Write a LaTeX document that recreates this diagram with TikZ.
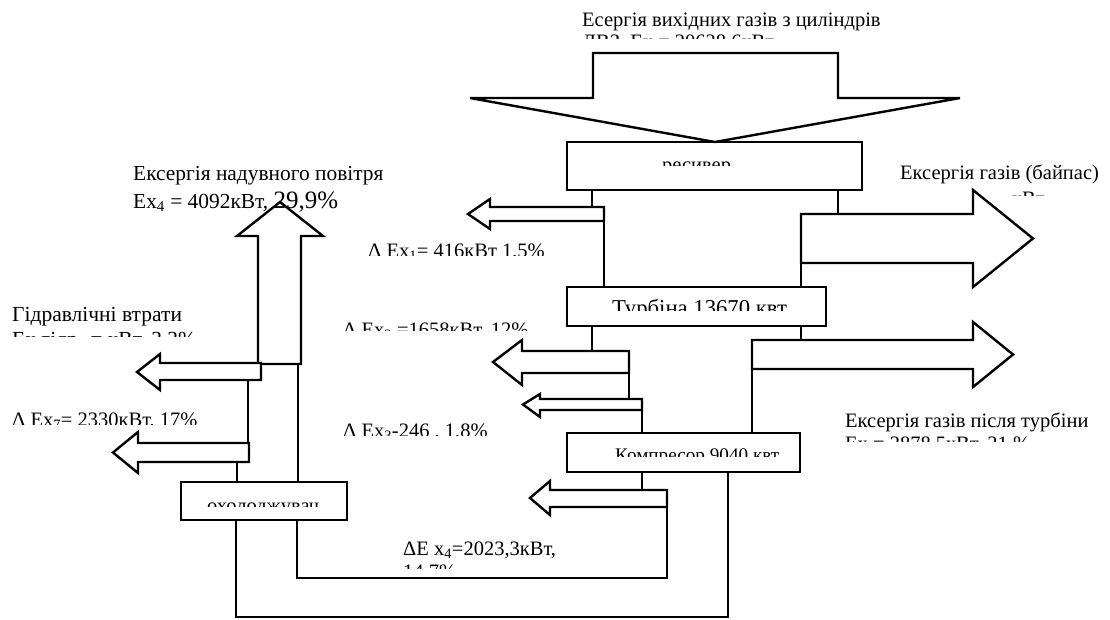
\documentclass[tikz,border=0pt]{standalone}
\usepackage{fontspec}
\setmainfont{Liberation Serif}
\begin{document}
\begin{tikzpicture}[x=1pt,y=-1pt,
  box/.style={draw,line width=2.6pt,inner sep=0pt},
  arr/.style={draw,line width=2.4pt,line join=miter,fill=white},
  conn/.style={line width=1.3pt},
  loopline/.style={line width=2pt},
  lbl/.style={inner sep=0pt,anchor=base west,font=\fontsize{20.5}{23}\selectfont},
]
\fill[white] (0,0) rectangle (1110,619);
\useasboundingbox (0,0) rectangle (1110,619);

% boxes
\node[box,minimum width=295pt,minimum height=48pt] (res) at (714.5,166) {};
\node[box,minimum width=259pt,minimum height=39pt] (turb) at (696.5,306.5) {};
\node[box,minimum width=233pt,minimum height=39pt] (comp) at (683.5,452.5) {};
\node[box,minimum width=166pt,minimum height=38pt] (cool) at (264,501) {};

% connector points
\coordinate (r1) at (592,190); \coordinate (r1e) at (592,207);
\coordinate (r2) at (838,190); \coordinate (r2e) at (838,214);
\coordinate (a1) at (604,221); \coordinate (a1e) at (604,287);
\coordinate (b1) at (801,263); \coordinate (b1e) at (801,287);
\coordinate (t1) at (592,326); \coordinate (t1e) at (592,352);
\coordinate (t2) at (801,326); \coordinate (t2e) at (801,340);
\coordinate (c1) at (629,373); \coordinate (c1e) at (629,399);
\coordinate (c2) at (642,410); \coordinate (c2e) at (642,433);
\coordinate (c3) at (752,369); \coordinate (c3e) at (752,433);
\coordinate (c4) at (642,472); \coordinate (c4e) at (642,491);
\coordinate (h1) at (248,380); \coordinate (h1e) at (248,443);
\coordinate (h2) at (237,462); \coordinate (h2e) at (237,482);
\coordinate (u1) at (298,364); \coordinate (u1e) at (298,482);

\draw[conn] (r1) -- (r1e);
\draw[conn] (r2) -- (r2e);
\draw[conn] (a1) -- (a1e);
\draw[conn] (b1) -- (b1e);
\draw[conn] (t1) -- (t1e);
\draw[conn] (t2) -- (t2e);
\draw[conn] (c1) -- (c1e);
\draw[conn] (c2) -- (c2e);
\draw[conn] (c3) -- (c3e);
\draw[conn] (c4) -- (c4e);
\draw[conn] (h1) -- (h1e);
\draw[conn] (h2) -- (h2e);
\draw[conn] (u1) -- (u1e);

% loops
\draw[loopline] (667,507) -- (667,578) -- (297,578) -- (297,520);
\draw[loopline] (728,472) -- (728,617) -- (236,617) -- (236,520);

% arrows
\draw[arr] (593,53) -- (838,53) -- (838,98) -- (960,98) -- (715,142) -- (470,98) -- (593,98) -- cycle;
\draw[arr] (604,207) -- (604,221) -- (490,221) -- (490,229) -- (468,214) -- (490,199) -- (490,207) -- cycle;
\draw[arr] (801,214) -- (973,214) -- (973,190) -- (1033,238.5) -- (973,287) -- (973,263) -- (801,263) -- cycle;
\draw[arr] (752,340) -- (973,340) -- (973,322) -- (1013,354.5) -- (973,387) -- (973,369) -- (752,369) -- cycle;
\draw[arr] (629,351) -- (629,373) -- (522,373) -- (522,385) -- (493,362) -- (522,340) -- (522,351) -- cycle;
\draw[arr] (642,399) -- (642,410) -- (540,410) -- (540,417) -- (523,404.5) -- (540,394) -- (540,399) -- cycle;
\draw[arr] (667,490) -- (667,507) -- (550,507) -- (550,515) -- (530,498) -- (550,481) -- (550,490) -- cycle;
\draw[arr] (258,364) -- (258,236) -- (237,236) -- (280,202) -- (323,236) -- (301,236) -- (301,364) -- cycle;
\draw[arr] (261,363) -- (261,380) -- (160,380) -- (160,390) -- (137,372) -- (160,354) -- (160,363) -- cycle;
\draw[arr] (249,443) -- (249,462) -- (138,462) -- (138,473) -- (113,452.5) -- (138,432) -- (138,443) -- cycle;

% texts
\node[lbl] (txtop) at (582,26) {Есергія вихідних газів з циліндрів};
\begin{scope}\clip (560,30) rectangle (900,38);
\node[lbl] (txtopb) at (582,48) {ДВЗ, Ех = 20628,6кВт};
\end{scope}

\node[lbl,font=\fontsize{21.4}{24}\selectfont] (txair) at (133,180) {Ексергія надувного повітря};
\node[lbl,font=\fontsize{21.4}{24}\selectfont] (txairb) at (133,208) {Ех\textsubscript{4} = 4092кВт, {\fontsize{25}{28}\selectfont 29,9\%}};

\node[lbl] (txbyp) at (900,179) {Ексергія газів (байпас)};
\begin{scope}\clip (880,186) rectangle (1110,195);
\node[lbl] (txbypb) at (1012,205) {кВт};
\end{scope}

\begin{scope}\clip (350,235) rectangle (600,255);
\node[lbl] (txd1) at (368,257) {Δ Ех\textsubscript{1}= 416кВт 1,5\%};
\end{scope}

\node[lbl,font=\fontsize{21.5}{24}\selectfont] (txhyd) at (12,321) {Гідравлічні втрати};
\begin{scope}\clip (0,326) rectangle (250,336.5);
\node[lbl,font=\fontsize{21.5}{24}\selectfont] (txhydb) at (12,346) {Ех гідр. = кВт, 3,3\%};
\end{scope}

\begin{scope}\clip (330,318) rectangle (560,330);
\node[lbl] (txd2) at (343,336) {Δ Ех\textsubscript{2} =1658кВт, 12\%};
\end{scope}

\begin{scope}\clip (0,405) rectangle (230,424);
\node[lbl] (txd7) at (12,426) {Δ Ех\textsubscript{7}= 2330кВт, 17\%};
\end{scope}

\begin{scope}\clip (330,415) rectangle (520,435);
\node[lbl] (txd3) at (343,437) {Δ Ех\textsubscript{3}-246 , 1,8\%};
\end{scope}

\node[lbl] (txaft) at (845,427) {Ексергія газів після турбіни};
\begin{scope}\clip (830,432) rectangle (1110,441);
\node[lbl] (txaftb) at (845,450) {Ех = 2878,5кВт, 21 \%};
\end{scope}

\node[lbl] (txd4) at (403,555) {ΔE х\textsubscript{4}=2023,3кВт,};
\begin{scope}\clip (390,560) rectangle (560,568);
\node[lbl] (txd4b) at (403,578) {14,7\%};
\end{scope}

% box labels (cut off as in the reference)
\begin{scope}\clip (600,150) rectangle (830,165);
\node[lbl] (txres) at (662,171) {ресивер};
\end{scope}
\begin{scope}\clip (580,295) rectangle (822,310);
\node[lbl,font=\fontsize{22.7}{25}\selectfont] (txturb) at (612,315) {Турбіна 13670 квт};
\end{scope}
\begin{scope}\clip (575,440) rectangle (795,456);
\node[lbl,font=\fontsize{19.2}{22}\selectfont] (txcomp) at (615,461) {Компресор 9040 квт};
\end{scope}
\begin{scope}\clip (190,490) rectangle (340,506);
\node[lbl] (txcool) at (207,512) {охолоджувач};
\end{scope}
\end{tikzpicture}
\end{document}
